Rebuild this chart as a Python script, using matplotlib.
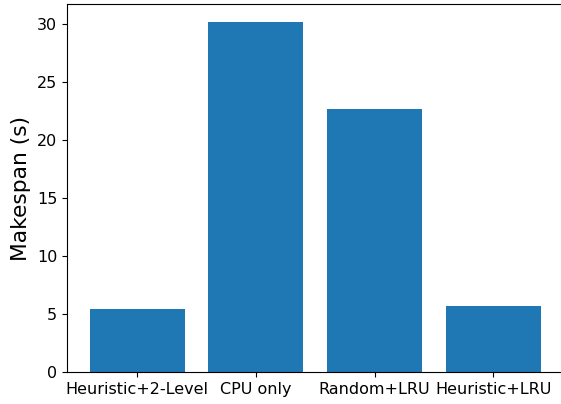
import matplotlib
matplotlib.use('Agg')
import matplotlib.pyplot as plt

methods = ['Heuristic+2-Level', 'CPU only', 'Random+LRU', 'Heuristic+LRU']
makespan = [5.46, 30.25, 22.7, 5.74]

fig = plt.figure(figsize=(5.61, 4.04), dpi=100)
ax = fig.add_axes([67 / 561, 31.7 / 404, 496.5 / 561, 368.3 / 404])
ax.bar(methods, makespan, color='#1f77b4')
ax.set_ylabel('Makespan (s)', fontsize=15.7)
ax.tick_params(axis='both', labelsize=11.5)
# right edge is cut off in the original
ax.spines['right'].set_visible(False)
fig.savefig('out.png', dpi=100)
